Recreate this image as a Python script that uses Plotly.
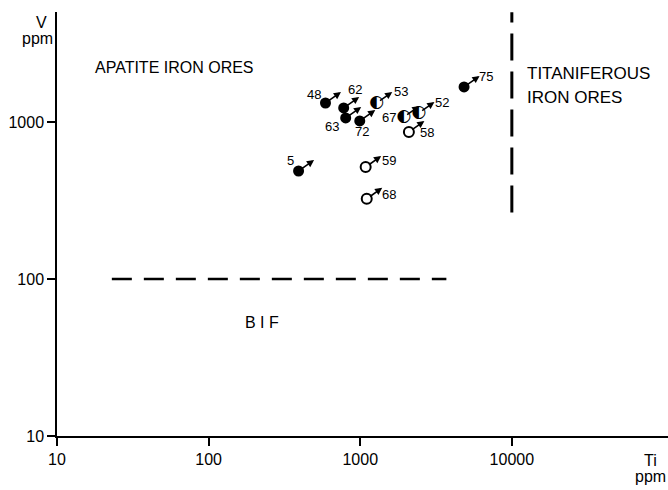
import math
import plotly.graph_objects as go

# ---- data ----
sample_ids = ["48", "62", "63", "72", "53", "67", "52", "58", "75", "5", "59", "68"]
ti_ppm = [590, 778, 802, 993, 1285, 1941, 2438, 2094, 4840, 392, 1086, 1104]
v_ppm = [1320, 1227, 1060, 1014, 1321, 1076, 1141, 863, 1670, 487, 516, 324]
marker_kind = ["filled", "filled", "filled", "filled", "half", "half", "half", "open",
               "filled", "filled", "open", "open"]

# boundary lines
bif_line_ti = [23, 3700]
bif_line_v = [100, 100]
tit_line_ti = [10000, 10000]
tit_line_v = [265, 5000]

x_tickvals = [10, 100, 1000, 10000]
x_ticktext = ["10", "100", "1000", "10000"]
y_tickvals = [10, 100, 1000]
y_ticktext = ["10", "100", "1000"]

# label offsets in pixels (style): (dx, dy) screen, dy positive downward
label_offsets = [(-11, -8), (11, -18), (-14, 9), (2, 11), (24, -11), (-15, 1),
                 (23, -10), (18, 1), (22, -10), (-8, -11), (23, -7), (22, -4)]
arrow_vec = (17, -12)

FONT = "Liberation Sans, Arial, sans-serif"

L, T, B = 57, 12, 54
W, H = 668, 490
PW, PH = W - L, H - T - B

fig = go.Figure()

# dashed boundary lines
fig.add_trace(go.Scatter(x=bif_line_ti, y=bif_line_v, mode="lines",
                         line=dict(color="black", width=2.5, dash="20px,12px"),
                         hoverinfo="skip", showlegend=False))
fig.add_trace(go.Scatter(x=tit_line_ti, y=tit_line_v, mode="lines",
                         line=dict(color="black", width=3, dash="27px,11px"),
                         hoverinfo="skip", showlegend=False))

def pick(kind):
    xs = [x for x, k in zip(ti_ppm, marker_kind) if k == kind]
    ys = [y for y, k in zip(v_ppm, marker_kind) if k == kind]
    return xs, ys

fx, fy = pick("filled")
fig.add_trace(go.Scatter(x=fx, y=fy, mode="markers",
                         marker=dict(symbol="circle", size=11, color="black"),
                         showlegend=False))
ox, oy = pick("open")
fig.add_trace(go.Scatter(x=ox, y=oy, mode="markers",
                         marker=dict(symbol="circle-open", size=10, color="black",
                                     line=dict(width=2, color="black")),
                         showlegend=False))
hx, hy = pick("half")
fig.add_trace(go.Scatter(x=hx, y=hy, mode="text", text=["◐"] * len(hx),
                         textposition="middle center",
                         textfont=dict(family="DejaVu Sans", size=17, color="#000000"),
                         showlegend=False))

# arrows and sample labels (annotation positions on log axes are given in log10 units)
for sid, x, y, (dx, dy) in zip(sample_ids, ti_ppm, v_ppm, label_offsets):
    lx, ly = math.log10(x), math.log10(y)
    fig.add_annotation(x=lx, y=ly, xref="x", yref="y", text="", showarrow=True,
                       ax=arrow_vec[0], ay=arrow_vec[1], axref="pixel", ayref="pixel",
                       arrowside="start", startarrowhead=2, startarrowsize=0.9,
                       arrowwidth=1.6, arrowcolor="black", standoff=4)
    fig.add_annotation(x=lx, y=ly, xref="x", yref="y", text=sid, showarrow=False,
                       xshift=dx, yshift=-dy,
                       font=dict(family=FONT, size=13, color="black"))

# region texts
def paper_text(txt, px, py, size, xanchor="left"):
    fig.add_annotation(x=(px - L) / PW, y=(H - B - py) / PH, xref="paper", yref="paper",
                       text=txt, showarrow=False, xanchor=xanchor, yanchor="middle",
                       borderpad=0,
                       font=dict(family=FONT, size=size, color="black"))

paper_text("APATITE IRON ORES", 94, 67, 16)
paper_text("TITANIFEROUS", 526, 73, 17)
paper_text("IRON ORES", 526, 97, 17)
paper_text("B I F", 262, 323, 16, xanchor="center")
paper_text("V", 41, 22, 16, xanchor="center")
paper_text("ppm", 37, 39, 16, xanchor="center")
paper_text("Ti", 650, 461, 16, xanchor="center")
paper_text("ppm", 650, 476, 16, xanchor="center")

fig.update_xaxes(type="log", range=[1, 5.03], tickvals=x_tickvals, ticktext=x_ticktext,
                 ticks="outside", ticklen=8, tickwidth=1.5, tickcolor="black",
                 showline=True, linewidth=1.5, linecolor="black", showgrid=False,
                 zeroline=False, tickfont=dict(family=FONT, size=16, color="black"),
                 automargin=False)
fig.update_yaxes(type="log", range=[1, 3.70], tickvals=y_tickvals, ticktext=y_ticktext,
                 ticks="outside", ticklen=8, tickwidth=1.5, tickcolor="black",
                 showline=True, linewidth=1.5, linecolor="black", showgrid=False,
                 zeroline=False, tickfont=dict(family=FONT, size=16, color="black"),
                 automargin=False)

fig.update_layout(width=W, height=H, margin=dict(l=L, r=0, t=T, b=B),
                  paper_bgcolor="white", plot_bgcolor="white", showlegend=False)

fig.write_html("out.html", config={"displayModeBar": False},
               post_script="document.body.style.margin='0px';")
